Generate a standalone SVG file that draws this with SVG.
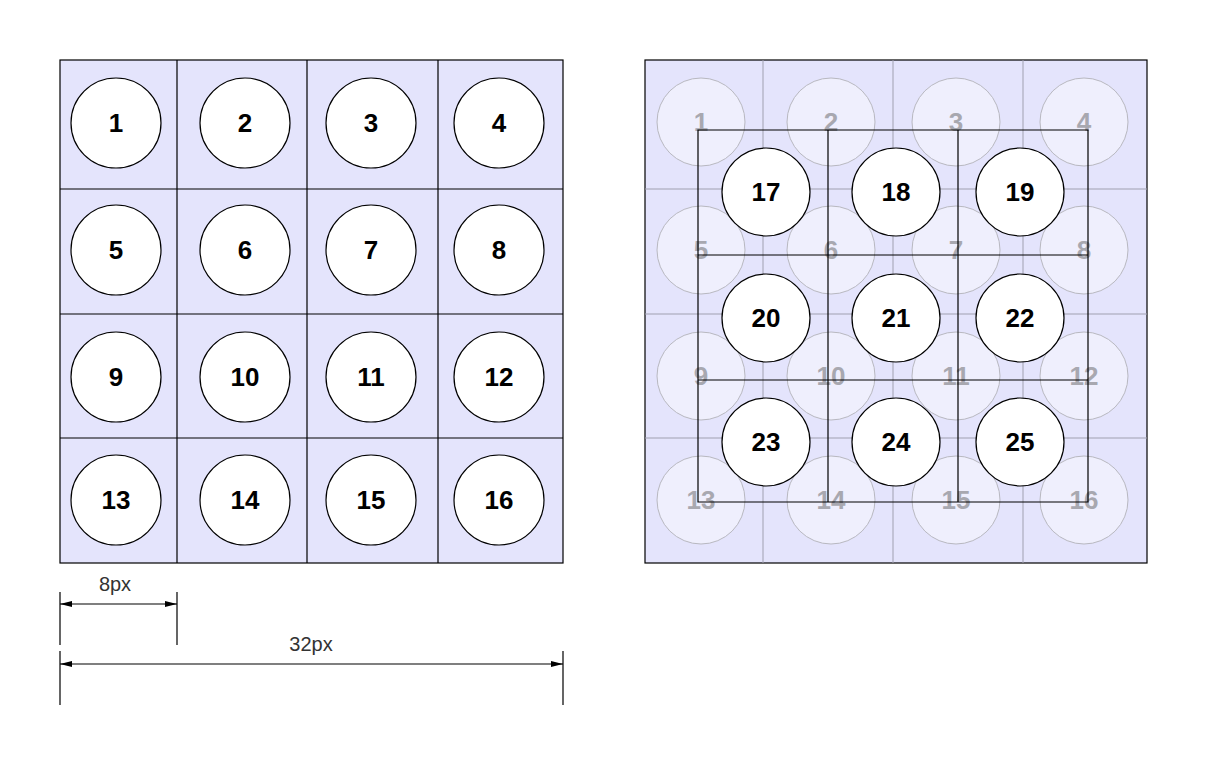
<svg xmlns="http://www.w3.org/2000/svg" width="1207" height="765" viewBox="0 0 1207 765">
<style>
.bg{fill:#e4e4fc;stroke:#000;stroke-width:1.2}
.gl{stroke:#000;stroke-width:1.2;fill:none}
.fg{stroke:#a0a0b0;stroke-width:1;fill:none}
.c{fill:#fff;stroke:#000;stroke-width:1.2}
.fc{fill:#efeffd;stroke:#b8b8c0;stroke-width:1}
.t{font-family:"Liberation Sans",Arial,sans-serif;font-weight:bold;font-size:26px;text-anchor:middle;fill:#000}
.ft{font-family:"Liberation Sans",Arial,sans-serif;font-weight:bold;font-size:26px;text-anchor:middle;fill:#a8a8b0}
.d{font-family:"Liberation Sans",Arial,sans-serif;font-size:20px;text-anchor:middle;fill:#333}
</style>
<defs>
<marker id="a" viewBox="0 0 12 6" refX="12" refY="3" markerWidth="12" markerHeight="6" orient="auto-start-reverse" markerUnits="userSpaceOnUse"><path d="M0,0L12,3L0,6z" fill="#000"/></marker>
</defs>
<rect class="bg" x="60" y="60" width="503" height="503"/>
<g class="gl"><path d="M177,60V563M307,60V563M438,60V563M60,189H563M60,314H563M60,438H563"/></g>
<g id="left">
<g id="n1"><circle class="c" cx="116" cy="123" r="45"/><text class="t" x="116" y="132">1</text></g>
<g id="n2"><circle class="c" cx="245" cy="123" r="45"/><text class="t" x="245" y="132">2</text></g>
<g id="n3"><circle class="c" cx="371" cy="123" r="45"/><text class="t" x="371" y="132">3</text></g>
<g id="n4"><circle class="c" cx="499" cy="123" r="45"/><text class="t" x="499" y="132">4</text></g>
<g id="n5"><circle class="c" cx="116" cy="250" r="45"/><text class="t" x="116" y="259">5</text></g>
<g id="n6"><circle class="c" cx="245" cy="250" r="45"/><text class="t" x="245" y="259">6</text></g>
<g id="n7"><circle class="c" cx="371" cy="250" r="45"/><text class="t" x="371" y="259">7</text></g>
<g id="n8"><circle class="c" cx="499" cy="250" r="45"/><text class="t" x="499" y="259">8</text></g>
<g id="n9"><circle class="c" cx="116" cy="377" r="45"/><text class="t" x="116" y="386">9</text></g>
<g id="n10"><circle class="c" cx="245" cy="377" r="45"/><text class="t" x="245" y="386">10</text></g>
<g id="n11"><circle class="c" cx="371" cy="377" r="45"/><text class="t" x="371" y="386">11</text></g>
<g id="n12"><circle class="c" cx="499" cy="377" r="45"/><text class="t" x="499" y="386">12</text></g>
<g id="n13"><circle class="c" cx="116" cy="500" r="45"/><text class="t" x="116" y="509">13</text></g>
<g id="n14"><circle class="c" cx="245" cy="500" r="45"/><text class="t" x="245" y="509">14</text></g>
<g id="n15"><circle class="c" cx="371" cy="500" r="45"/><text class="t" x="371" y="509">15</text></g>
<g id="n16"><circle class="c" cx="499" cy="500" r="45"/><text class="t" x="499" y="509">16</text></g>
</g>
<g id="dims">
<path class="gl" d="M60,592V645M177,592V645M60,651V705M563,651V705"/>
<line x1="60" y1="604" x2="177" y2="604" stroke="#000" stroke-width="1.2" marker-start="url(#a)" marker-end="url(#a)"/>
<line x1="60" y1="664" x2="563" y2="664" stroke="#000" stroke-width="1.2" marker-start="url(#a)" marker-end="url(#a)"/>
<text class="d" x="115" y="591">8px</text>
<text class="d" x="311" y="651">32px</text>
</g>
<rect class="bg" x="645" y="60" width="502" height="503"/>
<g class="fg"><path d="M763,60V563M893,60V563M1023,60V563M645,189H1147M645,314H1147M645,438H1147"/></g>
<g id="faint">
<g id="f1"><circle class="fc" cx="701" cy="122" r="44"/><text class="ft" x="701" y="131">1</text></g>
<g id="f2"><circle class="fc" cx="831" cy="122" r="44"/><text class="ft" x="831" y="131">2</text></g>
<g id="f3"><circle class="fc" cx="956" cy="122" r="44"/><text class="ft" x="956" y="131">3</text></g>
<g id="f4"><circle class="fc" cx="1084" cy="122" r="44"/><text class="ft" x="1084" y="131">4</text></g>
<g id="f5"><circle class="fc" cx="701" cy="250" r="44"/><text class="ft" x="701" y="259">5</text></g>
<g id="f6"><circle class="fc" cx="831" cy="250" r="44"/><text class="ft" x="831" y="259">6</text></g>
<g id="f7"><circle class="fc" cx="956" cy="250" r="44"/><text class="ft" x="956" y="259">7</text></g>
<g id="f8"><circle class="fc" cx="1084" cy="250" r="44"/><text class="ft" x="1084" y="259">8</text></g>
<g id="f9"><circle class="fc" cx="701" cy="376" r="44"/><text class="ft" x="701" y="385">9</text></g>
<g id="f10"><circle class="fc" cx="831" cy="376" r="44"/><text class="ft" x="831" y="385">10</text></g>
<g id="f11"><circle class="fc" cx="956" cy="376" r="44"/><text class="ft" x="956" y="385">11</text></g>
<g id="f12"><circle class="fc" cx="1084" cy="376" r="44"/><text class="ft" x="1084" y="385">12</text></g>
<g id="f13"><circle class="fc" cx="701" cy="500" r="44"/><text class="ft" x="701" y="509">13</text></g>
<g id="f14"><circle class="fc" cx="831" cy="500" r="44"/><text class="ft" x="831" y="509">14</text></g>
<g id="f15"><circle class="fc" cx="956" cy="500" r="44"/><text class="ft" x="956" y="509">15</text></g>
<g id="f16"><circle class="fc" cx="1084" cy="500" r="44"/><text class="ft" x="1084" y="509">16</text></g>
</g>
<g class="gl"><path d="M698,130H1088V502H698ZM828,130V502M958,130V502M698,255H1088M698,380H1088"/></g>
<g id="right">
<g id="n17"><circle class="c" cx="766" cy="192" r="44"/><text class="t" x="766" y="201">17</text></g>
<g id="n18"><circle class="c" cx="896" cy="192" r="44"/><text class="t" x="896" y="201">18</text></g>
<g id="n19"><circle class="c" cx="1020" cy="192" r="44"/><text class="t" x="1020" y="201">19</text></g>
<g id="n20"><circle class="c" cx="766" cy="318" r="44"/><text class="t" x="766" y="327">20</text></g>
<g id="n21"><circle class="c" cx="896" cy="318" r="44"/><text class="t" x="896" y="327">21</text></g>
<g id="n22"><circle class="c" cx="1020" cy="318" r="44"/><text class="t" x="1020" y="327">22</text></g>
<g id="n23"><circle class="c" cx="766" cy="442" r="44"/><text class="t" x="766" y="451">23</text></g>
<g id="n24"><circle class="c" cx="896" cy="442" r="44"/><text class="t" x="896" y="451">24</text></g>
<g id="n25"><circle class="c" cx="1020" cy="442" r="44"/><text class="t" x="1020" y="451">25</text></g>
</g>
</svg>
